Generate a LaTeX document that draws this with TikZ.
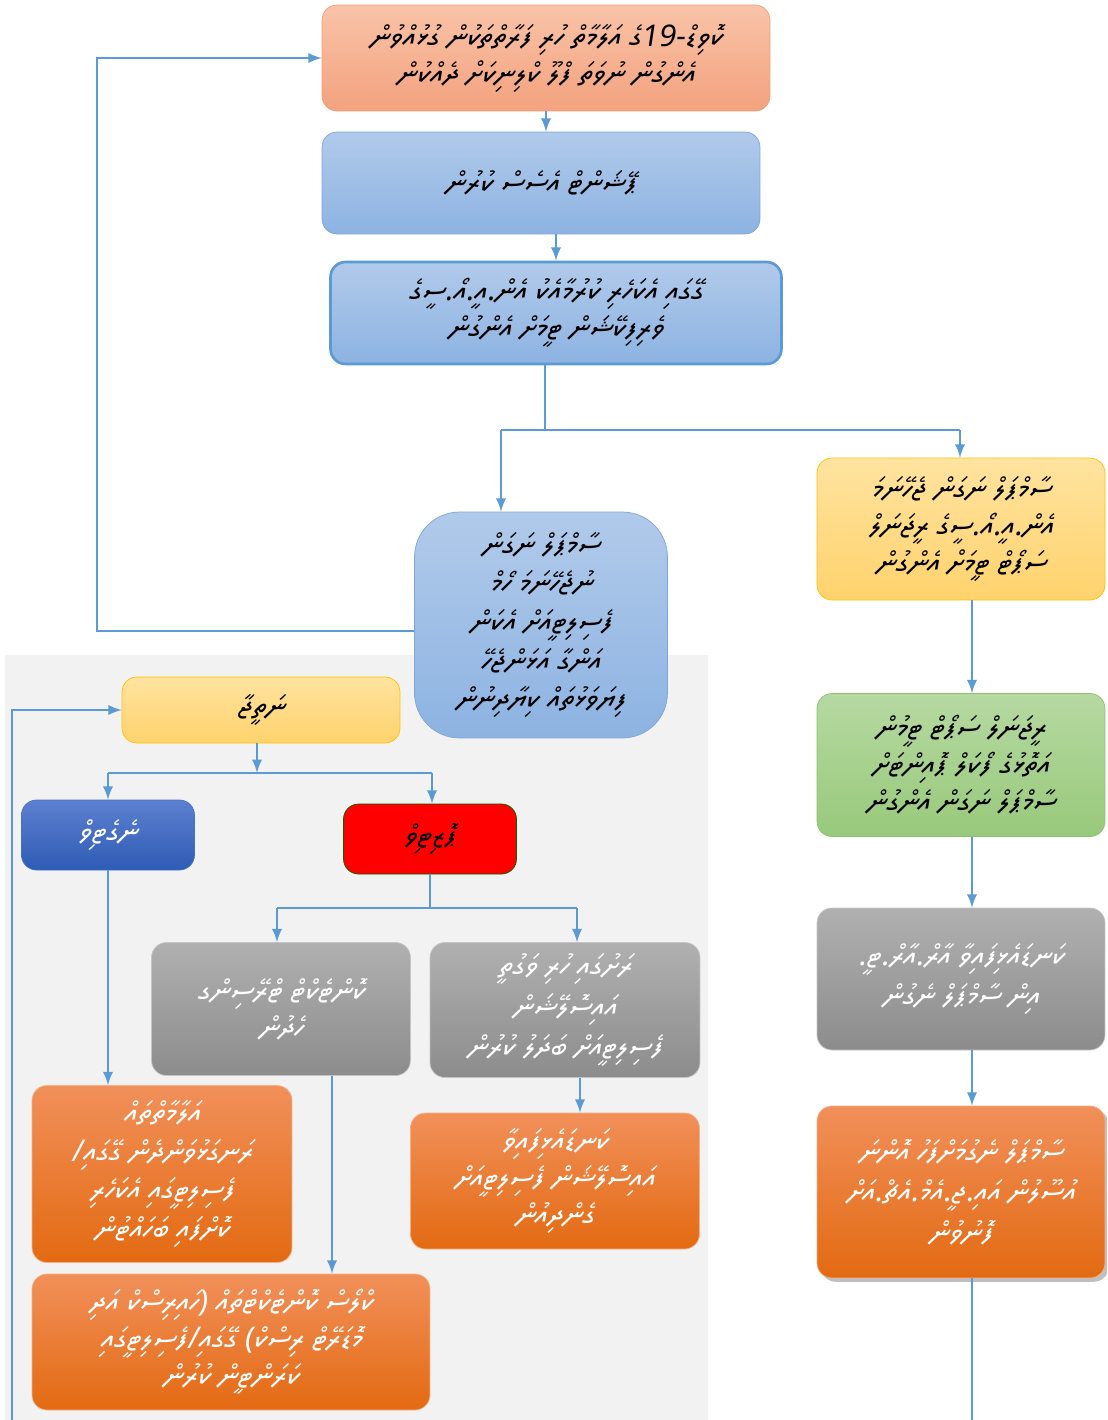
\documentclass[tikz,border=0pt]{standalone}
\usepackage{fontspec}
\newfontfamily\thaana[Script=Thaana,FakeSlant=0.15]{Noto Sans Thaana}
\TeXXeTstate=1
\usetikzlibrary{shadows}

\definecolor{flowblue}{HTML}{5B9BD5}
\definecolor{salmontop}{HTML}{F9C3A8}
\definecolor{salmonbot}{HTML}{F3A27E}
\definecolor{salmonline}{HTML}{F19E78}
\definecolor{bluetop}{HTML}{B1CAEA}
\definecolor{bluebot}{HTML}{8DB3E2}
\definecolor{blueline}{HTML}{7EA6D9}
\definecolor{yellowtop}{HTML}{FFE3A0}
\definecolor{yellowbot}{HTML}{FFD36D}
\definecolor{yellowline}{HTML}{FFC000}
\definecolor{greentop}{HTML}{B6D9A2}
\definecolor{greenbot}{HTML}{98C97B}
\definecolor{greenline}{HTML}{8CC16C}
\definecolor{greytop}{HTML}{B0B0B0}
\definecolor{greybot}{HTML}{8C8C8C}
\definecolor{greyline}{HTML}{C4C4C4}
\definecolor{orangetop}{HTML}{F1905A}
\definecolor{orangebot}{HTML}{E36A12}
\definecolor{orangeline}{HTML}{F4B183}
\definecolor{navytop}{HTML}{5D80D0}
\definecolor{navybot}{HTML}{2E5BB5}
\definecolor{navyline}{HTML}{4472C4}
\definecolor{panelgrey}{HTML}{F2F2F2}

\newcommand{\dv}[1]{\beginR #1\endR}

\tikzset{
  box/.style      = {draw, rounded corners=0.3cm, align=center, inner sep=2pt,
                     font=\thaana\fontsize{17}{21}\selectfont},
  salmonbox/.style = {box, draw=salmonline, top color=salmontop, bottom color=salmonbot},
  bluebox/.style   = {box, draw=blueline, top color=bluetop, bottom color=bluebot},
  yellowbox/.style = {box, draw=yellowline, top color=yellowtop, bottom color=yellowbot},
  greenbox/.style  = {box, draw=greenline, top color=greentop, bottom color=greenbot},
  greybox/.style   = {box, draw=greyline, top color=greytop, bottom color=greybot, text=white},
  orangebox/.style = {box, draw=orangeline, top color=orangetop, bottom color=orangebot, text=white},
  navybox/.style   = {box, draw=navyline, top color=navytop, bottom color=navybot, text=white},
  redbox/.style    = {box, draw=green!40!black, fill=red},
  flow/.style      = {line width=1.6pt, flowblue},
  arrow/.style     = {flow, -latex},
}

\begin{document}
\begin{tikzpicture}[x=0.02cm, y=-0.02cm]
  \useasboundingbox (0,0) rectangle (1107,1420);
  \fill[white] (0,0) rectangle (1107,1420);
  \clip (0,0) rectangle (1107,1420);

  % lower panel
  \fill[panelgrey] (5,655) rectangle (708,1420);

  % upper chain
  \node[salmonbox, minimum width=8.96cm, minimum height=2.12cm] (start) at (546,58)
    {\dv{ކޮވިޑް-\beginL 19\endL ގެ އަލާމާތް ހުރި ފަރާތްތަކުން ގުޅުއްވުން}\\
     \dv{އެންގުން ނުވަތަ ފްލޫ ކްލިނިކަށް ދެއްކުން}};
  \node[bluebox, minimum width=8.76cm, minimum height=2.04cm] (assess) at (541,183)
    {\dv{ޕޭޝަންޓް އެސެސް ކުރުން}};
  \node[bluebox, draw=flowblue, line width=1.5pt, minimum width=9.02cm, minimum height=2.04cm] (neoc) at (556,313)
    {\dv{ގޭގައި އެކަހެރި ކުރުމާއެކު އެން.އީ.އޯ.ސީގެ}\\
     \dv{ވެރިފިކޭޝަން ޓީމަށް އެންގުން}};

  % right column
  \node[yellowbox, minimum width=5.76cm, minimum height=2.84cm] (sample) at (961,529)
    {\dv{ސާމްޕަލް ނަގަން ޖެހޭނަމަ}\\
     \dv{އެން.އީ.އޯ.ސީގެ ރީޖަނަލް}\\
     \dv{ސަޕޯޓް ޓީމަށް އެންގުން}};
  \node[greenbox, minimum width=5.76cm, minimum height=2.86cm] (regional) at (961,765)
    {\dv{ރީޖަނަލް ސަޕޯޓް ޓީމުން}\\
     \dv{އަތޮޅުގެ ފޯކަލް ޕޮއިންޓަށް}\\
     \dv{ސާމްޕަލް ނަގަން އެންގުން}};
  \node[greybox, minimum width=5.76cm, minimum height=2.84cm] (rrt) at (961,979)
    {\dv{ކަނޑައެޅިފައިވާ އާރް.އާރް.ޓީ.}\\[2pt]
     \dv{އިން ސާމްޕަލް ނެގުން}};
  \node[orangebox, drop shadow, minimum width=5.76cm, minimum height=3.44cm] (igmh) at (961,1192)
    {\dv{ސާމްޕަލް ނެގުމަށްފަހު އޮންނަ}\\[2pt]
     \dv{އުސޫލުން އައި.ޖީ.އެމް.އެޗް.އަށް}\\[2pt]
     \dv{ފޮނުވުން}};

  % no sample
  \node[bluebox, rounded corners=0.9cm, minimum width=5.06cm, minimum height=4.52cm] (nosample) at (541,625)
    {\dv{ސާމްޕަލް ނަގަން}\\[1pt]
     \dv{ނުޖެހޭނަމަ ހޯމް}\\[1pt]
     \dv{ފެސިލިޓީއަށް އެކަން}\\[1pt]
     \dv{އަންގާ އަޅަންޖެހޭ}\\[1pt]
     \dv{ފިޔަވަޅުތައް ކިޔާދިނުން}};

  % result branch
  \node[yellowbox, minimum width=5.56cm, minimum height=1.32cm] (result) at (261,710)
    {\dv{ނަތީޖާ}};
  \node[navybox, minimum width=3.46cm, minimum height=1.4cm] (negative) at (108,835)
    {\dv{ނެގެޓިވް}};
  \node[redbox, minimum width=3.46cm, minimum height=1.4cm] (positive) at (430,839)
    {\dv{ޕޮޒިޓިވް}};
  \node[greybox, minimum width=5.18cm, minimum height=2.66cm] (tracing) at (281,1009)
    {\dv{ކޮންޓެކްޓް ޓްރޭސިންގ}\\
     \dv{ހެދުން}};
  \node[greybox, minimum width=5.4cm, minimum height=2.7cm] (island) at (565,1010)
    {\dv{ރަށުގައި ހުރި ވަގުތީ}\\[2pt]
     \dv{އައިސޮލޭޝަން}\\[2pt]
     \dv{ފެސިލިޓީއަށް ބަދަލު ކުރުން}};
  \node[orangebox, minimum width=5.2cm, minimum height=3.54cm] (recovered) at (162,1174)
    {\dv{އަލާމާތްތައް}\\[1pt]
     \dv{ރަނގަޅުވަންދެން ގޭގައި/}\\[1pt]
     \dv{ފެސިލިޓީގައި އެކަހެރި}\\[1pt]
     \dv{ކޮށްފައި ބަހައްޓުން}};
  \node[orangebox, minimum width=5.78cm, minimum height=2.72cm] (isolation) at (555,1181)
    {\dv{ކަނޑައެޅިފައިވާ}\\
     \dv{އައިސޮލޭޝަން ފެސިލިޓީއަށް}\\
     \dv{ގެންދިއުން}};
  \node[orangebox, minimum width=7.96cm, minimum height=2.72cm] (quarantine) at (231,1342)
    {\dv{ކްލޯސް ކޮންޓެކްޓްތައް (ހައިރިސްކް އަދި}\\
     \dv{މޮޑަރޭޓް ރިސްކް) ގޭގައި/ފެސިލިޓީގައި}\\
     \dv{ކަރަންޓީން ކުރުން}};

  % junctions
  \coordinate (split)   at (545,430);
  \coordinate (splitL)  at (501,430);
  \coordinate (splitR)  at (960,430);
  \coordinate (back)    at (97,631);
  \coordinate (rcol)    at (972,0);
  \coordinate (exitR)   at (972,1420);
  \coordinate (exitL)   at (12,1420);
  \coordinate (split2)  at (257,773);
  \coordinate (split2L) at (108,773);
  \coordinate (split2R) at (432,773);
  \coordinate (split3)  at (430,908);
  \coordinate (split3L) at (277,908);
  \coordinate (split3R) at (577,908);
  \coordinate (tcol)    at (332,0);
  \coordinate (icol)    at (580,0);

  % connectors
  \draw[arrow] (start.south) -- (start.south |- assess.north);
  \draw[arrow] (assess.south -| neoc.north) -- (neoc.north);
  \draw[flow] (neoc.south -| split) -- (split);
  \draw[flow] (splitL) -- (splitR);
  \draw[arrow] (splitL) -- (splitL |- nosample.north);
  \draw[arrow] (splitR) -- (splitR |- sample.north);
  \draw[arrow] (nosample.west |- back) -- (back) |- (start.west);
  \draw[arrow] (sample.south -| rcol) -- (regional.north -| rcol);
  \draw[arrow] (regional.south -| rcol) -- (rrt.north -| rcol);
  \draw[arrow] (rrt.south -| rcol) -- (igmh.north -| rcol);
  \draw[flow] (igmh.south -| rcol) -- (exitR);
  \draw[arrow] (exitL) |- (result.west);
  \draw[arrow] (result.south -| split2) -- (split2);
  \draw[flow] (split2L) -- (split2R);
  \draw[arrow] (split2L) -- (split2L |- negative.north);
  \draw[arrow] (split2R) -- (split2R |- positive.north);
  \draw[arrow] (negative.south) -- (negative.south |- recovered.north);
  \draw[flow] (positive.south -| split3) -- (split3);
  \draw[flow] (split3L) -- (split3R);
  \draw[arrow] (split3L) -- (split3L |- tracing.north);
  \draw[arrow] (split3R) -- (split3R |- island.north);
  \draw[arrow] (tracing.south -| tcol) -- (quarantine.north -| tcol);
  \draw[arrow] (island.south -| icol) -- (isolation.north -| icol);
\end{tikzpicture}
\end{document}
